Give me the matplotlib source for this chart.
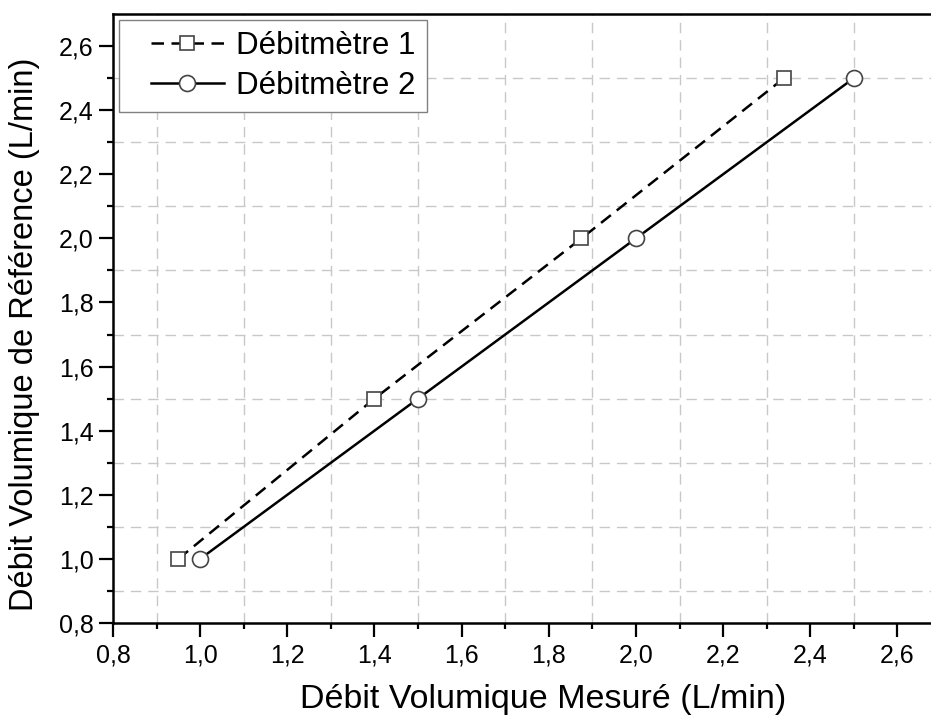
import numpy as np
import matplotlib
matplotlib.use('Agg')
import matplotlib.pyplot as plt
from matplotlib.ticker import FixedLocator
from matplotlib.lines import Line2D
from matplotlib.legend_handler import HandlerLine2D

plt.rcParams['font.family'] = ['Liberation Sans', 'DejaVu Sans']

# data
x1 = [0.95, 1.40, 1.875, 2.34]
y1 = [1.0, 1.5, 2.0, 2.5]
x2 = [1.0, 1.5, 2.0, 2.5]
y2 = [1.0, 1.5, 2.0, 2.5]
labels = ['Débitmètre 1', 'Débitmètre 2']
tick_vals = [0.8, 1.0, 1.2, 1.4, 1.6, 1.8, 2.0, 2.2, 2.4, 2.6]
tick_labels = ['0,8', '1,0', '1,2', '1,4', '1,6', '1,8', '2,0', '2,2', '2,4', '2,6']
minor_vals = [0.9, 1.1, 1.3, 1.5, 1.7, 1.9, 2.1, 2.3, 2.5]

fig = plt.figure(figsize=(9.31, 7.2), dpi=100)
ax = fig.add_axes([113 / 931, 97 / 720, 828 / 931, 609 / 720])

ax.plot(x1, y1, color='black', lw=1.8, ls=(0, (5, 3)), marker='s', ms=10,
        mfc='white', mec='#444444', mew=1.2, label=labels[0], zorder=3)
ax.plot(x2, y2, color='black', lw=1.8, ls='-', marker='o', ms=11.5,
        mfc='white', mec='#444444', mew=1.2, label=labels[1], zorder=3)

ax.set_xlim(0.8, 2.7)
ax.set_ylim(0.8, 2.7)

ax.xaxis.set_major_locator(FixedLocator(tick_vals))
ax.yaxis.set_major_locator(FixedLocator(tick_vals))
ax.set_xticklabels(tick_labels)
ax.set_yticklabels(tick_labels)
ax.xaxis.set_minor_locator(FixedLocator(minor_vals))
ax.yaxis.set_minor_locator(FixedLocator(minor_vals))

ax.grid(which='minor', color='#c8c8c8', ls=(0, (7.5, 5)), lw=1.0)
ax.grid(which='major', visible=False)
ax.set_axisbelow(True)

ax.tick_params(which='major', direction='out', length=10, width=1.6,
               labelsize=18, top=False, right=False)
ax.tick_params(axis='x', which='major', pad=5)
ax.tick_params(axis='y', which='major', pad=4)
ax.tick_params(which='minor', direction='out', length=4.5, width=1.6,
               top=False, right=False)
for s in ax.spines.values():
    s.set_linewidth(1.8)

ax.set_xlabel('Débit Volumique Mesuré (L/min)', fontsize=24.5)
ax.set_ylabel('Débit Volumique de Référence (L/min)', fontsize=23.5)
ax.xaxis.set_label_coords(0.519, -0.100)
ax.yaxis.set_label_coords(-0.088, 0.474)

leg = ax.legend(loc='upper left', fontsize=22.5, frameon=True, fancybox=False,
                edgecolor='#808080', handlelength=3.0, handletextpad=0.4,
                borderaxespad=0.2, labelspacing=0.3, borderpad=0.35,
                handler_map={Line2D: HandlerLine2D(xpad=0.65)})
leg.get_frame().set_linewidth(1.0)
leg.get_frame().set_alpha(1)

fig.savefig('out.png', dpi=100)
